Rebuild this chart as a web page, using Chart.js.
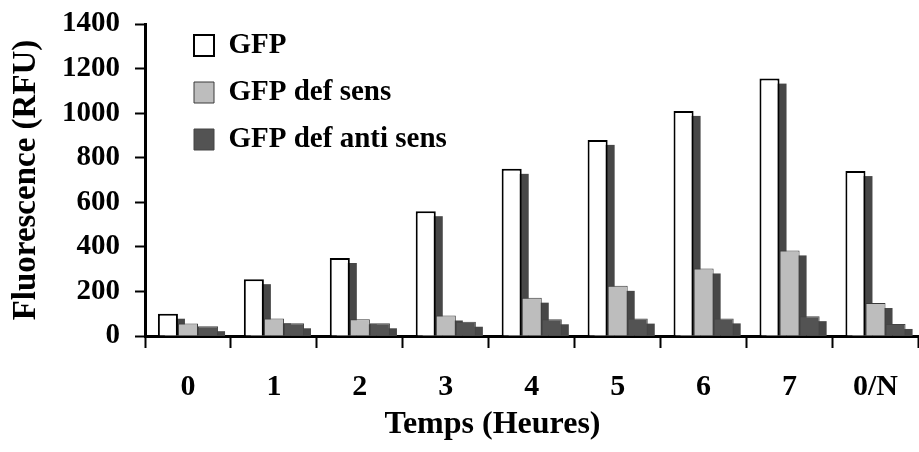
<!DOCTYPE html>
<html>
<head>
<meta charset="utf-8">
<script src="https://cdn.jsdelivr.net/npm/chart.js@4.4.1/dist/chart.umd.min.js"></script>
<style>
  html, body { margin: 0; padding: 0; background: #fff; }
  #wrap { width: 919px; height: 452px; }
</style>
</head>
<body>
<div id="wrap"><canvas id="chartContainer"></canvas></div>
<script>
var hours = ['0', '1', '2', '3', '4', '5', '6', '7', '0/N']
var gfp = [100, 255, 350, 560, 750, 880, 1010, 1155, 740]
var gfpSens = [56, 79, 75, 92, 172, 225, 303, 384, 148]
var gfpAntiSens = [44, 57, 57, 64, 75, 78, 79, 89, 54]
var yTicks = [0, 200, 400, 600, 800, 1000, 1200, 1400]

var serif = 'Liberation Serif'

// dark offset copy behind every bar (old 3D look), drawn before the bars
var barShadow = {
  id: 'barShadow',
  beforeDatasetsDraw: function(chart) {
    var ctx = chart.ctx
    var area = chart.chartArea
    ctx.save()
    ctx.beginPath()
    ctx.rect(area.left, area.top, area.right - area.left, area.bottom - area.top)
    ctx.clip()
    ctx.fillStyle = '#474747'
    chart.data.datasets.forEach(function(ds, i) {
      var meta = chart.getDatasetMeta(i)
      meta.data.forEach(function(bar) {
        var p = bar.getProps(['x', 'y', 'base', 'width'], true)
        ctx.fillRect(p.x - p.width / 2 + 7, p.y + 5, p.width, p.base - p.y)
      })
    })
    ctx.restore()
  }
}

// legend inside the plot, axis title a bit to the right
var boxShift = {
  id: 'boxShift',
  afterLayout: function(chart) {
    var l = chart.legend
    l.left += 31
    l.top += 13
    chart.titleBlock.left += 33
    chart.titleBlock.right += 33
  }
}

var chart = new Chart(chartContainer, {
  type: 'bar',
  data: {
    labels: hours,
    datasets: [{
      label: 'GFP',
      data: gfp,
      backgroundColor: '#ffffff',
      borderColor: '#000000',
      borderWidth: 2
    },
    {
      label: 'GFP def sens',
      data: gfpSens,
      backgroundColor: '#bdbdbd',
      borderColor: '#3a3a3a',
      borderWidth: 1
    },
    {
      label: 'GFP def anti sens',
      data: gfpAntiSens,
      backgroundColor: '#535353',
      borderColor: '#444444',
      borderWidth: 1
    }]
  },
  options: {
    responsive: true,
    maintainAspectRatio: false,
    animation: false,
    categoryPercentage: 0.7,
    barPercentage: 1,
    layout: { padding: { top: 24, left: 0, right: 0, bottom: 0 } },
    scales: {
      x: {
        z: 1,
        offset: true,
        afterFit: function(axis) { axis.height = 69.6 },
        grid: { offset: true, drawOnChartArea: false, tickLength: 12, tickWidth: 2, tickColor: '#000' },
        border: { display: true, color: '#000', width: 3 },
        ticks: { color: '#000', padding: 21, font: { family: serif, size: 30, weight: 'bold' } }
      },
      y: {
        z: 1,
        min: 0,
        max: 1400,
        afterFit: function(axis) {
          axis.width = 145
          axis.paddingTop = 0
          axis.paddingBottom = 0
        },
        afterBuildTicks: function(axis) {
          axis.ticks = yTicks.map(function(v) { return { value: v } })
        },
        grid: { drawOnChartArea: false, tickLength: 10, tickWidth: 2, tickColor: '#000' },
        border: { display: true, color: '#000', width: 3 },
        ticks: {
          color: '#000',
          padding: 15,
          font: { family: serif, size: 29, weight: 'bold' },
          callback: function(v) { return String(v) }
        },
        title: {
          display: true,
          text: 'Fluorescence (RFU)',
          color: '#000',
          padding: { top: 7, bottom: 0 },
          font: { family: serif, size: 33, weight: 'bold' }
        }
      }
    },
    plugins: {
      legend: {
        position: 'chartArea',
        align: 'start',
        labels: {
          color: '#000',
          boxWidth: 20,
          boxHeight: 21,
          padding: 18,
          font: { family: serif, size: 29, weight: 'bold' }
        }
      },
      title: {
        display: true,
        position: 'bottom',
        text: 'Temps (Heures)',
        color: '#000',
        padding: { top: 0, bottom: 8 },
        font: { family: serif, size: 32, weight: 'bold' }
      },
      tooltip: { enabled: false }
    }
  },
  plugins: [barShadow, boxShift]
})
</script>
</body>
</html>
